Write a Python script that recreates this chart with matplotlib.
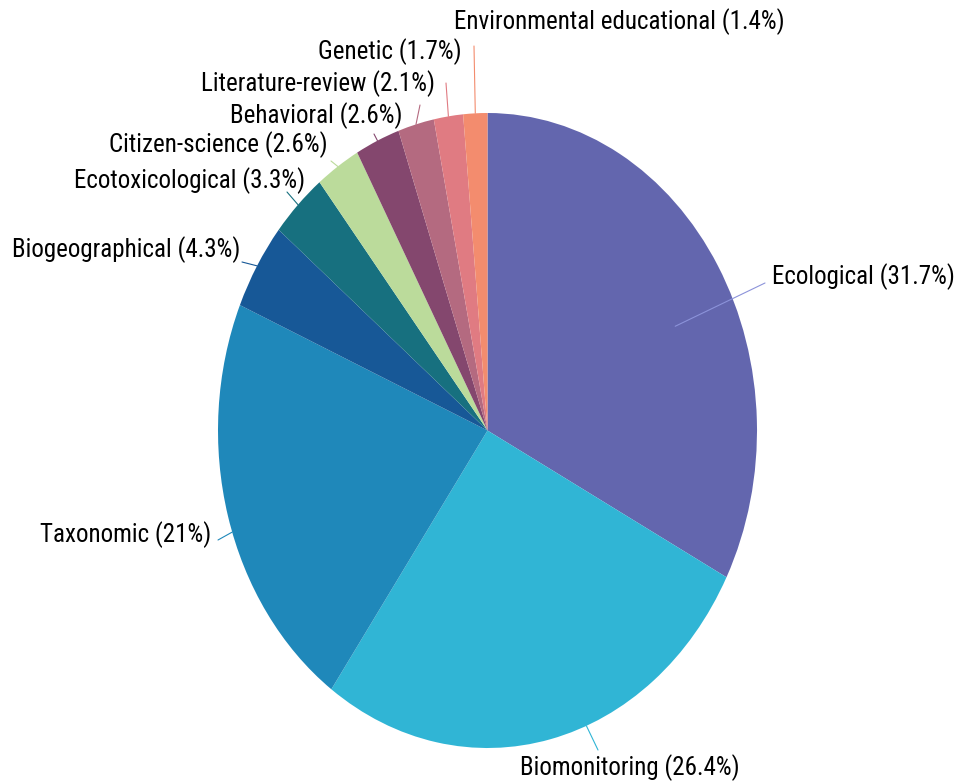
import numpy as np
import matplotlib
matplotlib.use("Agg")
import matplotlib.pyplot as plt

plt.rcParams['font.family'] = ['Roboto Condensed', 'DejaVu Sans']

# data
labels = ["Ecological", "Biomonitoring", "Taxonomic", "Biogeographical",
          "Ecotoxicological", "Citizen-science", "Behavioral",
          "Literature-review", "Genetic", "Environmental educational"]
shares = [31.7, 26.4, 21, 4.3, 3.3, 2.6, 2.6, 2.1, 1.7, 1.4]
colors = ["#6366AE", "#30B5D5", "#1F88BA", "#175897", "#17707F",
          "#BBDB9B", "#84476E", "#B46A80", "#E07B82", "#F38C6E"]
line_colors = ["#8C93DA", "#30B5D5", "#1F88BA", "#175897", "#17707F",
               "#BBDB9B", "#84476E", "#B46A80", "#E07B82", "#F38C6E"]

# label layout (figure pixels from top-left): text anchor, line end, alignment
text_pos = [(772, 277), (630, 768), (211, 535), (240, 250), (305, 181),
            (328, 145), (403, 116), (435, 84), (462, 52), (619, 22)]
line_end = [(765, 283), (598, 750), (218, 540), (242, 262), (287, 192),
            (331, 161), (374, 134), (420, 105), (446, 83), (474, 46)]
text_ha = ["left", "center", "right", "right", "right",
           "right", "right", "right", "right", "center"]
anchor_r = [0.77, 1.0, 1.0, 1.0, 1.0, 1.0, 1.0, 1.0, 1.0, 1.0]
anchor_shift = [-6, 8, 3, 0, 0, 0, 0, 0, 0, 0]   # degrees off the wedge middle

W, H = 960, 782
fig = plt.figure(figsize=(W / 100, H / 100), dpi=100)
ax = fig.add_axes([218 / W, (H - 748) / H, 539 / W, 635 / H])

wedges, _ = ax.pie(shares, colors=colors, startangle=90, counterclock=False,
                   wedgeprops=dict(linewidth=0))
ax.set_aspect('auto')
ax.set_xlim(-1, 1)
ax.set_ylim(-1, 1)
ax.axis('off')

for i, w in enumerate(wedges):
    mid = np.deg2rad((w.theta1 + w.theta2) / 2 + anchor_shift[i])
    r = anchor_r[i]
    ax.annotate("", xy=(r * np.cos(mid), r * np.sin(mid)), xycoords='data',
                xytext=(line_end[i][0], H - line_end[i][1]), textcoords='figure pixels',
                arrowprops=dict(arrowstyle='-', color=line_colors[i], lw=0.8,
                                shrinkA=0, shrinkB=0))
    tx, ty = text_pos[i]
    fig.text(tx / W, (H - ty) / H, f"{labels[i]} ({shares[i]:g}%)",
             ha=text_ha[i], va='center', fontsize=18, color='black')

fig.savefig("out.png", dpi=100)
